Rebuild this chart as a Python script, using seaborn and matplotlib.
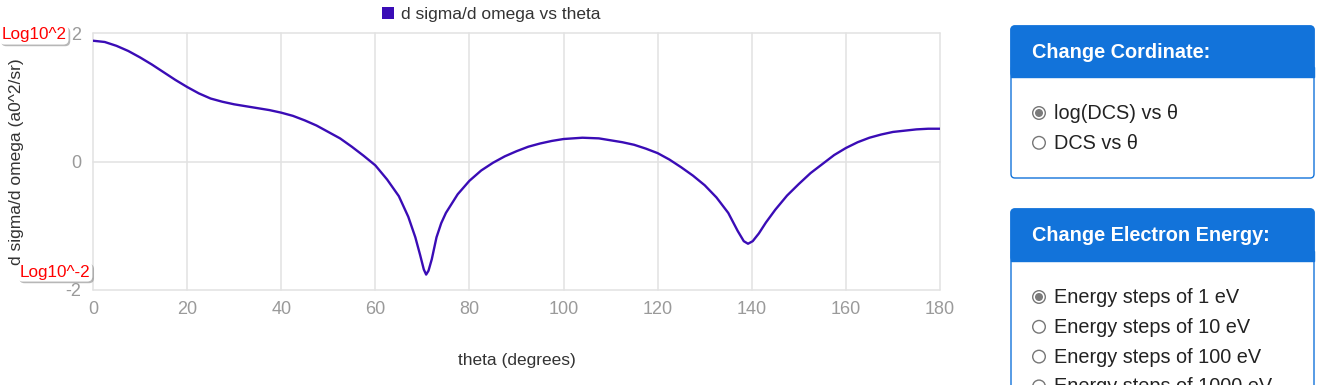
import matplotlib
matplotlib.use("Agg")
import matplotlib.pyplot as plt
import matplotlib.patheffects as pe
from matplotlib.patches import FancyBboxPatch, Rectangle, Circle, Patch
import pandas as pd
import seaborn as sns

# values (log10 of DCS vs scattering angle)
THETA = [0, 2.5, 5, 7.5, 10, 12.5, 15, 17.5, 20, 22.5, 25, 27.5, 30, 32.5, 35,
         37.5, 40, 42.5, 45, 47.5, 50, 52.5, 55, 57.5, 60, 62.5, 65, 67, 68.5,
         69.5, 70.3, 70.8, 71.3, 72, 73, 74, 75, 77.5, 80, 82.5, 85, 87.5, 90,
         92.5, 95, 97.5, 100, 104, 107.5, 110, 112.5, 115, 117.5, 120, 122.5,
         125, 127.5, 130, 132.5, 135, 137, 138.3, 139.2, 140.2, 141.5, 143, 145,
         147.5, 150, 152.5, 155, 157.5, 160, 162.5, 165, 167.5, 170, 172.5, 175,
         177.5, 180]
LOG_DCS = [1.88, 1.86, 1.80, 1.72, 1.62, 1.51, 1.39, 1.27, 1.16, 1.06, 0.98,
           0.93, 0.89, 0.86, 0.83, 0.80, 0.76, 0.71, 0.64, 0.56, 0.46, 0.36,
           0.23, 0.09, -0.06, -0.28, -0.54, -0.86, -1.18, -1.45, -1.68, -1.76,
           -1.70, -1.52, -1.18, -0.96, -0.80, -0.51, -0.30, -0.14, -0.02, 0.08,
           0.16, 0.23, 0.28, 0.32, 0.35, 0.37, 0.36, 0.33, 0.30, 0.26, 0.20,
           0.13, 0.03, -0.09, -0.22, -0.37, -0.56, -0.80, -1.08, -1.24, -1.28,
           -1.24, -1.12, -0.95, -0.75, -0.53, -0.35, -0.18, -0.04, 0.10, 0.21,
           0.30, 0.37, 0.42, 0.46, 0.48, 0.50, 0.51, 0.51]
X_TICKS = [0, 20, 40, 60, 80, 100, 120, 140, 160, 180]
Y_TICKS = [-2, 0, 2]
SERIES_LABEL = "d sigma/d omega vs theta"
X_LABEL = "theta (degrees)"
Y_LABEL = "d sigma/d omega (a0^2/sr)"
Y_MARKS = ["Log10^2", "Log10^-2"]
COORD_TITLE = "Change Cordinate:"
COORD_OPTIONS = ["log(DCS) vs θ", "DCS vs θ"]
ENERGY_TITLE = "Change Electron Energy:"
ENERGY_OPTIONS = ["Energy steps of 1 eV", "Energy steps of 10 eV",
                  "Energy steps of 100 eV", "Energy steps of 1000 eV"]

LINE_COLOR = "#3a0cb6"
GRID = "#e2e2e2"
BLUE = "#1273da"
W, H = 1330, 385

sns.set_theme(style="white")
plt.rcParams["font.family"] = ["Liberation Sans", "DejaVu Sans"]
plt.rcParams["axes.unicode_minus"] = False

df = pd.DataFrame({"theta": THETA, "dcs": LOG_DCS})

fig = plt.figure(figsize=(W / 100, H / 100), dpi=100)
ax = fig.add_axes([93 / W, 1 - 290 / H, 847 / W, 257 / H])
sns.lineplot(data=df, x="theta", y="dcs", ax=ax, color=LINE_COLOR, linewidth=1.7)

ax.set_xlim(0, 180)
ax.set_ylim(-2, 2)
ax.set_xticks(X_TICKS)
ax.set_yticks(Y_TICKS)
ax.grid(True, color=GRID, linewidth=1.1)
for ln in ax.get_xgridlines() + ax.get_ygridlines():
    ln.set_clip_on(False)
for s in ax.spines.values():
    s.set_visible(False)
ax.tick_params(length=5.2, width=1.1, color=GRID, labelcolor="#9a9a9a",
               labelsize=13, pad=3)
ax.set_xlabel(X_LABEL, fontsize=12.5, color="#333333", labelpad=25)
ax.set_ylabel(Y_LABEL, fontsize=12.5, color="#333333")
ax.yaxis.set_label_coords(-69 / 847, 0.5)

handle = Patch(facecolor=LINE_COLOR, edgecolor="none")
ax.legend([handle], [SERIES_LABEL], loc="center", frameon=False, fontsize=12.5,
          bbox_to_anchor=(491 / W, 1 - 14.5 / H), bbox_transform=fig.transFigure,
          handlelength=0.7, handleheight=0.7, handletextpad=0.4,
          labelcolor="#333333")

# page overlay in pixel units
ov = fig.add_axes([0, 0, 1, 1], zorder=5)
ov.set_xlim(0, W)
ov.set_ylim(H, 0)
ov.axis("off")
ov.patch.set_alpha(0)

for txt, (x, y) in zip(Y_MARKS, [(34, 35), (55, 272)]):
    t = ov.text(x, y, txt, color="red", fontsize=12.3, ha="center", va="center")
    t.set_bbox(dict(boxstyle="round,pad=0.12,rounding_size=0.3", fc="white", ec="none"))
    t.get_bbox_patch().set_path_effects(
        [pe.SimplePatchShadow(offset=(1.2, -1.2), shadow_rgbFace="#888888", alpha=0.6),
         pe.Normal()])


def panel(top, bottom, head_h, title, options, selected):
    ov.add_patch(FancyBboxPatch((1011, top), 303, bottom - top,
                                boxstyle="round,pad=0,rounding_size=4",
                                fc="white", ec=BLUE, lw=1))
    ov.add_patch(FancyBboxPatch((1011, top), 303, head_h,
                                boxstyle="round,pad=0,rounding_size=4",
                                fc=BLUE, ec=BLUE, lw=1))
    ov.add_patch(Rectangle((1011, top + head_h - 10), 303, 10, fc=BLUE, ec=BLUE, lw=1))
    ov.text(1032, top + head_h / 2 + 0.5, title, color="white", fontsize=14.3,
            fontweight="bold", va="center", ha="left")
    y0 = top + head_h + 36
    for i, opt in enumerate(options):
        y = y0 + i * 29.8
        ov.add_patch(Circle((1039, y), 6.3, fc="white", ec="#767676", lw=1))
        if i == selected:
            ov.add_patch(Circle((1039, y), 4, fc="#7a7a7a", ec="none"))
        ov.text(1054, y + 0.5, opt, color="#222222", fontsize=14.3, va="center", ha="left")


panel(26, 178, 51, COORD_TITLE, COORD_OPTIONS, 0)
panel(209, 420, 52, ENERGY_TITLE, ENERGY_OPTIONS, 0)

fig.savefig("out.png", dpi=100, facecolor="white")
